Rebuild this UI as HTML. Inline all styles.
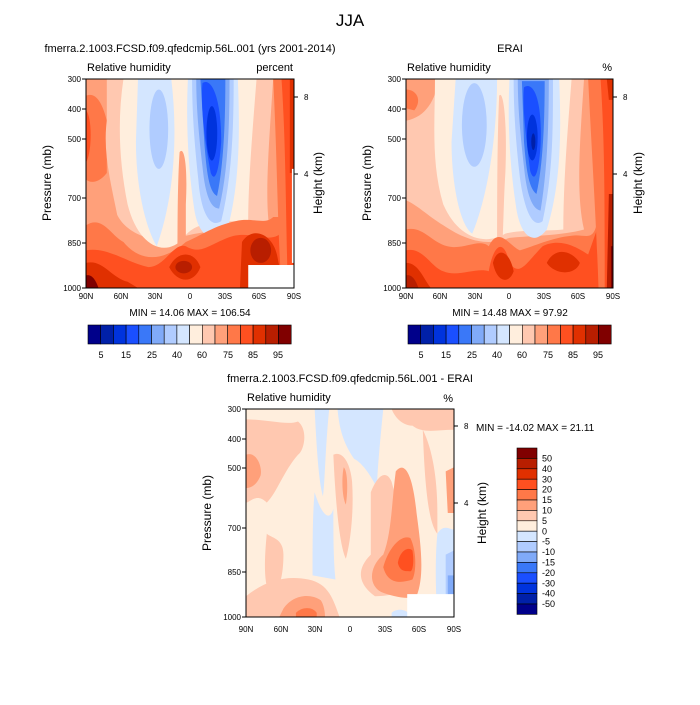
<!DOCTYPE html>
<html><head><meta charset="utf-8"><style>
body{margin:0;background:#fff}
svg text{font-family:"Liberation Sans",sans-serif;fill:#000}
</style></head><body>
<svg width="700" height="700" xmlns="http://www.w3.org/2000/svg">
<defs>
<clipPath id="c1"><rect x="0" y="0" width="100" height="100"/></clipPath>
</defs>
<rect width="700" height="700" fill="#fff"/>
<text x="350" y="26" font-size="17" text-anchor="middle">JJA</text>

<!-- TOP LEFT -->
<text x="190" y="52" font-size="11" text-anchor="middle">fmerra.2.1003.FCSD.f09.qfedcmip.56L.001 (yrs 2001-2014)</text>
<g transform="translate(86,79) scale(2.08,2.09)" clip-path="url(#c1)">
<rect width="100" height="100" fill="#ffa07a"/>
<path d="M0,8 C5,6 8,12 10,20 L10,45 C6,50 2,50 0,48Z" fill="#ff7848"/>
<path d="M0,15 C3,18 3,35 0,40Z" fill="#ff5020"/>
<path d="M10,0 L90,0 C88,30 86,55 88,70 C75,72 60,72 48,75 C35,80 20,75 15,65 C12,50 8,35 10,20Z" fill="#ffc8b0"/>
<path d="M18,0 L82,0 C80,25 78,50 78,68 C65,68 52,68 47,76 C38,86 25,80 20,60 C16,40 15,20 18,0Z" fill="#ffeedd"/>
<path d="M25,0 L41,0 C44,25 43,55 34,80 C28,70 24,50 24,30Z" fill="#d4e6ff"/>
<ellipse cx="35" cy="24" rx="4.5" ry="19" fill="#b0ccff"/>
<path d="M49,0 L73,0 C74,25 74,50 68,72 C62,80 54,76 52,62 C49,42 48,20 49,0Z" fill="#d4e6ff"/>
<path d="M51,0 L71,0 C71,25 70,48 65,68 C59,72 55,62 54,48 C52,30 51,15 51,0Z" fill="#b0ccff"/>
<path d="M53,0 L69,0 C69,25 68,45 64,62 C59,62 57,52 56,42 C54,25 53,12 53,0Z" fill="#80aaf8"/>
<path d="M55,0 L67,0 C67,22 66,42 63,56 C59,54 58,44 57,32Z" fill="#3a78f8"/>
<path d="M56,2 C60,-1 65,8 65,30 C64,44 62,50 60,45 C57,30 55,12 56,2Z" fill="#1a4fff"/>
<ellipse cx="60.5" cy="26" rx="2.6" ry="13" fill="#0033dd"/>
<path d="M45,35 C47,32 49,40 48,60 L48,90 L44,90 C44,70 44,50 45,35Z" fill="#ffa07a"/>
<path d="M0,70 C8,65 12,75 18,78 C28,90 40,85 48,78 C55,75 62,70 72,68 C80,66 86,70 90,66 L100,66 L100,100 L0,100Z" fill="#ff7848"/>
<path d="M0,82 C10,80 20,88 30,90 C38,90 42,78 48,80 C55,84 58,80 68,76 C78,72 86,78 92,75 L100,70 L100,100 L0,100Z" fill="#ff5020"/>
<path d="M0,88 C8,86 12,95 20,97 L25,100 L0,100Z" fill="#e03000"/>
<path d="M40,90 C44,82 52,82 55,90 C52,98 44,98 40,90Z" fill="#e03000"/>
<ellipse cx="47" cy="90" rx="4" ry="3" fill="#b81e00"/>
<path d="M75,78 C80,70 90,74 92,85 L95,100 L74,100Z" fill="#e03000"/>
<ellipse cx="84" cy="82" rx="5" ry="6" fill="#b81e00"/>
<path d="M0,94 C3,93 5,97 6,100 L0,100Z" fill="#800000"/>
<path d="M90,0 L100,0 L100,100 L94,100 C92,70 92,40 90,0Z" fill="#ff7848"/>
<path d="M94,0 L100,0 L100,100 L97,100 C96,60 96,30 94,0Z" fill="#ff5020"/>
<path d="M98,0 L100,0 L100,45 L98,45Z" fill="#e03000"/>
<rect x="99" y="43" width="1" height="45" fill="#fff"/>
<rect x="78" y="89" width="22" height="11" fill="#fff"/>
</g>
<rect x="86" y="79" width="208" height="209" fill="none" stroke="#000" stroke-width="1"/>
<text x="87" y="71" font-size="11">Relative humidity</text>
<text x="293" y="71" font-size="11" text-anchor="end">percent</text>
<g font-size="8" text-anchor="end">
<text x="81" y="82">300</text><text x="81" y="112">400</text><text x="81" y="142">500</text><text x="81" y="201">700</text><text x="81" y="246">850</text><text x="81" y="291">1000</text>
</g>
<g stroke="#000"><path d="M86,79h-4M86,109h-4M86,139h-4M86,198h-4M86,243h-4M86,288h-4M294,97h4M294,174h4"/></g>
<g font-size="8" text-anchor="middle">
<text x="86" y="299">90N</text><text x="121" y="299">60N</text><text x="155" y="299">30N</text><text x="190" y="299">0</text><text x="225" y="299">30S</text><text x="259" y="299">60S</text><text x="294" y="299">90S</text>
</g>
<text x="304" y="100" font-size="8">8</text><text x="304" y="177" font-size="8">4</text>
<text transform="translate(51,183) rotate(-90)" font-size="12" text-anchor="middle">Pressure (mb)</text>
<text transform="translate(322,183) rotate(-90)" font-size="12" text-anchor="middle">Height (km)</text>
<text x="190" y="316" font-size="10" text-anchor="middle">MIN =  14.06  MAX = 106.54</text>

<!-- TOP RIGHT -->
<text x="510" y="52" font-size="11" text-anchor="middle">ERAI</text>
<g transform="translate(406,79) scale(2.07,2.09)" clip-path="url(#c1)">
<rect width="100" height="100" fill="#ffa07a"/>
<path d="M0,5 C5,5 8,10 4,15 L0,14Z" fill="#ff7848"/>
<path d="M0,20 C10,18 14,10 16,0 L86,0 C84,30 82,55 86,72 C75,75 60,75 50,76 C40,80 30,78 18,70 C10,65 5,60 0,58Z" fill="#ffc8b0"/>
<path d="M14,0 L80,0 C78,25 76,50 76,72 C65,73 55,72 48,74 C38,80 25,76 18,60 C12,40 14,20 14,0Z" fill="#ffeedd"/>
<path d="M24,0 L44,0 C44,25 40,55 32,74 C26,70 22,50 22,30Z" fill="#d4e6ff"/>
<ellipse cx="33" cy="22" rx="6" ry="20" fill="#b0ccff"/>
<path d="M45,8 C47,5 49,20 48,45 C47,60 47,80 46,85 L44,85 C44,60 44,30 45,8Z" fill="#ffc8b0"/>
<path d="M50,0 L74,0 C75,25 75,50 68,72 C62,80 55,76 53,60 C50,40 49,20 50,0Z" fill="#d4e6ff"/>
<path d="M52,0 L71,0 C71,25 71,45 66,68 C61,72 57,62 55,47 C53,30 52,15 52,0Z" fill="#b0ccff"/>
<path d="M54,0 L69,0 C69,25 68,45 65,63 C60,62 58,52 57,42 C55,25 54,12 54,0Z" fill="#80aaf8"/>
<path d="M56,1 L67,1 C67,22 66,42 63,55 C59,52 58,42 57,30Z" fill="#3a78f8"/>
<path d="M57,4 C61,1 66,8 65,32 C64,46 62,50 60,44 C58,28 56,12 57,4Z" fill="#1a4fff"/>
<ellipse cx="61" cy="28" rx="2.6" ry="11" fill="#0033dd"/>
<ellipse cx="61.5" cy="30" rx="1" ry="4" fill="#0020a8"/>
<path d="M0,72 C8,70 12,78 20,80 C28,82 35,76 40,80 C45,70 50,80 55,82 C62,80 70,76 80,75 C86,74 90,78 92,70 L100,60 L100,100 L0,100Z" fill="#ff7848"/>
<path d="M0,82 C8,80 12,90 18,92 C25,95 34,90 40,92 C42,80 47,75 50,88 C55,95 58,88 66,80 C74,76 82,80 88,84 L93,70 L100,65 L100,100 L0,100Z" fill="#ff5020"/>
<path d="M0,88 C6,88 8,95 12,100 L0,100Z" fill="#e03000"/>
<path d="M42,88 C44,80 50,82 52,92 C50,98 44,98 42,88Z" fill="#e03000"/>
<path d="M68,88 C72,80 80,82 84,88 C82,94 72,94 68,88Z" fill="#e03000"/>
<path d="M0,94 C3,93 5,97 6,100 L0,100Z" fill="#b81e00"/>
<path d="M88,0 L100,0 L100,100 L93,100 C92,70 90,40 88,0Z" fill="#ff7848"/>
<path d="M94,0 L100,0 L100,100 L96,100 C96,60 96,30 94,0Z" fill="#ff5020"/>
<path d="M97,0 L100,0 L100,10 L98,10Z" fill="#e03000"/>
<path d="M98,55 L100,55 L100,100 L97,100Z" fill="#b81e00"/>
<path d="M99,80 L100,80 L100,100 L99,100Z" fill="#800000"/>
</g>
<rect x="406" y="79" width="207" height="209" fill="none" stroke="#000" stroke-width="1"/>
<text x="407" y="71" font-size="11">Relative humidity</text>
<text x="612" y="71" font-size="11" text-anchor="end">%</text>
<g font-size="8" text-anchor="end">
<text x="401" y="82">300</text><text x="401" y="112">400</text><text x="401" y="142">500</text><text x="401" y="201">700</text><text x="401" y="246">850</text><text x="401" y="291">1000</text>
</g>
<g stroke="#000"><path d="M406,79h-4M406,109h-4M406,139h-4M406,198h-4M406,243h-4M406,288h-4M613,97h4M613,174h4"/></g>
<g font-size="8" text-anchor="middle">
<text x="406" y="299">90N</text><text x="440" y="299">60N</text><text x="475" y="299">30N</text><text x="509" y="299">0</text><text x="544" y="299">30S</text><text x="578" y="299">60S</text><text x="613" y="299">90S</text>
</g>
<text x="623" y="100" font-size="8">8</text><text x="623" y="177" font-size="8">4</text>
<text transform="translate(371,183) rotate(-90)" font-size="12" text-anchor="middle">Pressure (mb)</text>
<text transform="translate(642,183) rotate(-90)" font-size="12" text-anchor="middle">Height (km)</text>
<text x="510" y="316" font-size="10" text-anchor="middle">MIN =  14.48  MAX =  97.92</text>

<!-- horizontal colorbars -->
<g id="hcb" stroke="#000" stroke-width="0.6">
<rect x="88" y="325" width="12.7" height="19" fill="#00008a"/>
<rect x="100.7" y="325" width="12.7" height="19" fill="#0020a8"/>
<rect x="113.4" y="325" width="12.7" height="19" fill="#0033dd"/>
<rect x="126.1" y="325" width="12.7" height="19" fill="#1a4fff"/>
<rect x="138.8" y="325" width="12.7" height="19" fill="#3a78f8"/>
<rect x="151.5" y="325" width="12.7" height="19" fill="#80aaf8"/>
<rect x="164.2" y="325" width="12.7" height="19" fill="#b0ccff"/>
<rect x="176.9" y="325" width="12.7" height="19" fill="#d4e6ff"/>
<rect x="189.6" y="325" width="12.7" height="19" fill="#ffeedd"/>
<rect x="202.3" y="325" width="12.7" height="19" fill="#ffc8b0"/>
<rect x="215" y="325" width="12.7" height="19" fill="#ffa07a"/>
<rect x="227.7" y="325" width="12.7" height="19" fill="#ff7848"/>
<rect x="240.4" y="325" width="12.7" height="19" fill="#ff5020"/>
<rect x="253.1" y="325" width="12.7" height="19" fill="#e03000"/>
<rect x="265.8" y="325" width="12.7" height="19" fill="#b81e00"/>
<rect x="278.5" y="325" width="12.7" height="19" fill="#800000"/>
</g>
<g font-size="9" text-anchor="middle">
<text x="101" y="358">5</text><text x="126" y="358">15</text><text x="152" y="358">25</text><text x="177" y="358">40</text><text x="202" y="358">60</text><text x="228" y="358">75</text><text x="253" y="358">85</text><text x="278" y="358">95</text>
</g>
<use href="#hcb" transform="translate(320,0)"/>
<g font-size="9" text-anchor="middle" transform="translate(320,0)">
<text x="101" y="358">5</text><text x="126" y="358">15</text><text x="152" y="358">25</text><text x="177" y="358">40</text><text x="202" y="358">60</text><text x="228" y="358">75</text><text x="253" y="358">85</text><text x="278" y="358">95</text>
</g>

<!-- BOTTOM -->
<text x="350" y="382" font-size="11" text-anchor="middle">fmerra.2.1003.FCSD.f09.qfedcmip.56L.001 - ERAI</text>
<g transform="translate(246,409) scale(2.08,2.08)" clip-path="url(#c1)">
<rect width="100" height="100" fill="#ffeedd"/>
<path d="M0,5 C10,5 20,8 25,6 C30,10 28,20 25,22 C18,30 15,40 10,45 C5,40 2,45 0,45Z" fill="#ffc8b0"/>
<path d="M0,22 C5,20 8,28 7,32 C5,37 2,38 0,38Z" fill="#ffa07a"/>
<path d="M10,60 C12,62 18,62 18,70 C18,80 16,88 12,90 C8,85 9,70 10,60Z" fill="#ffc8b0"/>
<path d="M0,90 C10,82 20,80 30,82 C40,84 42,92 45,100 L0,100Z" fill="#ffc8b0"/>
<path d="M18,96 C22,90 30,88 36,92 C38,95 38,100 38,100 L16,100Z" fill="#ffa07a"/>
<path d="M24,98 C27,95 32,95 34,98 L34,100 L24,100Z" fill="#ff7848"/>
<path d="M42,22 C46,20 50,25 51,35 C52,50 50,65 48,72 C45,66 43,45 42,22Z" fill="#ffc8b0"/>
<path d="M47,28 C49,30 49,40 48,46 C46,42 46,32 47,28Z" fill="#ffa07a"/>
<path d="M33,0 L40,0 C38,20 38,35 37,42 C35,35 34,20 33,0Z" fill="#d4e6ff"/>
<path d="M33,40 C36,50 40,55 42,48 C42,60 42,72 43,82 L32,80 C32,65 32,50 33,40Z" fill="#d4e6ff"/>
<path d="M44,0 L66,0 C65,10 63,30 63,38 C60,32 56,26 52,24 C48,18 45,12 44,0Z" fill="#d4e6ff"/>
<path d="M70,0 L100,0 L100,10 C92,10 85,12 80,8 C76,8 72,5 70,0Z" fill="#ffc8b0"/>
<path d="M60,40 C64,30 68,30 70,35 C74,50 78,65 82,78 C80,88 70,90 62,90 C55,85 52,78 60,70Z" fill="#ffc8b0"/>
<path d="M72,30 C76,25 80,30 82,50 C84,65 86,80 82,90 C78,92 70,90 65,88 C58,84 60,75 66,70 C70,60 70,45 72,30Z" fill="#ffa07a"/>
<path d="M66,76 C68,68 74,60 79,62 C82,68 82,78 80,82 C74,84 68,84 66,76Z" fill="#ff7848"/>
<path d="M73,74 C74,68 78,66 80,68 C81,74 80,78 79,78 C76,78 74,78 73,74Z" fill="#ff5020"/>
<path d="M85,10 C90,20 92,35 92,50 L92,60 C88,55 86,40 85,10Z" fill="#ffc8b0"/>
<path d="M96,30 L100,28 L100,50 L97,50Z" fill="#ffa07a"/>
<path d="M92,60 C95,55 98,58 100,58 L100,100 L92,100 C91,85 91,70 92,60Z" fill="#d4e6ff"/>
<path d="M96,70 L100,68 L100,90 L96,90Z" fill="#b0ccff"/>
<path d="M97,80 L100,80 L100,90 L97,90Z" fill="#80aaf8"/>
<path d="M70,98 C72,96 76,96 78,98 L78,100 L70,100Z" fill="#d4e6ff"/>
<rect x="77.5" y="89" width="22.5" height="11" fill="#fff"/>
</g>
<rect x="246" y="409" width="208" height="208" fill="none" stroke="#000" stroke-width="1"/>
<text x="247" y="401" font-size="11">Relative humidity</text>
<text x="453" y="402" font-size="11" text-anchor="end">%</text>
<g font-size="8" text-anchor="end">
<text x="241" y="412">300</text><text x="241" y="442">400</text><text x="241" y="471">500</text><text x="241" y="531">700</text><text x="241" y="575">850</text><text x="241" y="620">1000</text>
</g>
<g stroke="#000"><path d="M246,409h-4M246,439h-4M246,468h-4M246,528h-4M246,572h-4M246,617h-4M454,426h4M454,503h4"/></g>
<g font-size="8" text-anchor="middle">
<text x="246" y="632">90N</text><text x="281" y="632">60N</text><text x="315" y="632">30N</text><text x="350" y="632">0</text><text x="385" y="632">30S</text><text x="419" y="632">60S</text><text x="454" y="632">90S</text>
</g>
<text x="464" y="429" font-size="8">8</text><text x="464" y="506" font-size="8">4</text>
<text x="476" y="431" font-size="10">MIN = -14.02  MAX =  21.11</text>
<text transform="translate(211,513) rotate(-90)" font-size="12" text-anchor="middle">Pressure (mb)</text>
<text transform="translate(486,513) rotate(-90)" font-size="12" text-anchor="middle">Height (km)</text>

<g stroke="#000" stroke-width="0.6">
<rect x="517" y="448" width="20" height="10.4" fill="#800000"/>
<rect x="517" y="458.4" width="20" height="10.4" fill="#b81e00"/>
<rect x="517" y="468.8" width="20" height="10.4" fill="#e03000"/>
<rect x="517" y="479.2" width="20" height="10.4" fill="#ff5020"/>
<rect x="517" y="489.6" width="20" height="10.4" fill="#ff7848"/>
<rect x="517" y="500" width="20" height="10.4" fill="#ffa07a"/>
<rect x="517" y="510.4" width="20" height="10.4" fill="#ffc8b0"/>
<rect x="517" y="520.8" width="20" height="10.4" fill="#ffeedd"/>
<rect x="517" y="531.2" width="20" height="10.4" fill="#d4e6ff"/>
<rect x="517" y="541.6" width="20" height="10.4" fill="#b0ccff"/>
<rect x="517" y="552" width="20" height="10.4" fill="#80aaf8"/>
<rect x="517" y="562.4" width="20" height="10.4" fill="#3a78f8"/>
<rect x="517" y="572.8" width="20" height="10.4" fill="#1a4fff"/>
<rect x="517" y="583.2" width="20" height="10.4" fill="#0033dd"/>
<rect x="517" y="593.6" width="20" height="10.4" fill="#0020a8"/>
<rect x="517" y="604" width="20" height="10.4" fill="#00008a"/>
</g>
<g font-size="9">
<text x="542" y="461.5">50</text><text x="542" y="472">40</text><text x="542" y="482.3">30</text><text x="542" y="492.7">20</text><text x="542" y="503.1">15</text><text x="542" y="513.5">10</text><text x="542" y="523.9">5</text><text x="542" y="534.3">0</text><text x="542" y="544.7">-5</text><text x="542" y="555.1">-10</text><text x="542" y="565.5">-15</text><text x="542" y="575.9">-20</text><text x="542" y="586.3">-30</text><text x="542" y="596.7">-40</text><text x="542" y="607.1">-50</text>
</g>
</svg>
</body></html>
